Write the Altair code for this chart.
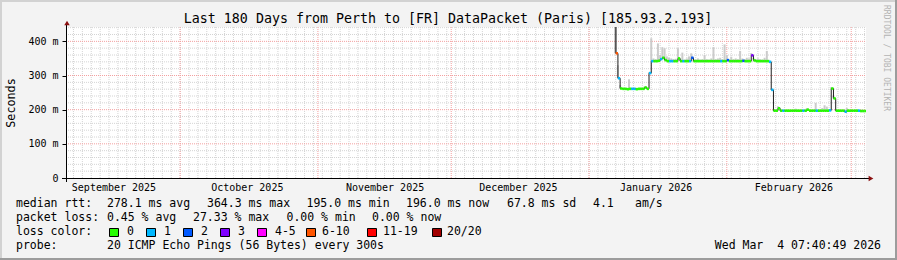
import altair as alt
import pandas as pd

MONO = "DejaVu Sans Mono"
OX, OY = 66, 27          # plot origin in page pixels
W, H = 800, 151          # plot area size
NB = "\u00a0"

# ---------------- data ----------------
sample_start = "2026-01-07 00:00:00"   # 12-hourly samples

median_ms = [
    365, 292, 262, 261, 261, 260, 261, 261, 261, 260,
    261, 261, 261, 265, 261, 307, 342, 342, 342, 343,
    348, 352, 345, 342, 342, 342, 342, 342, 350, 342,
    342, 342, 342, 342, 352, 342, 342, 342, 342, 342,
    342, 342, 342, 342, 342, 342, 342, 342, 342, 342,
    345, 342, 342, 342, 342, 342, 342, 343, 342, 342,
    342, 359, 344, 342, 342, 342, 342, 342, 342, 340,
    258, 197, 197, 204, 197, 197, 197, 197, 197, 197,
    197, 197, 197, 197, 197, 197, 200, 197, 197, 197,
    197, 197, 197, 197, 197, 197, 198, 262, 233, 197,
    197, 197, 197, 194, 197, 197, 197, 197, 197, 197,
    196, 196, 196,
]

smoke_max_ms = [
    443, 330, 272, 264, 263, 263, 289, 264, 263, 263,
    263, 264, 263, 268, 263, 310, 409, 350, 348, 394,
    360, 383, 380, 356, 352, 350, 348, 349, 380, 348,
    367, 347, 350, 356, 365, 348, 347, 350, 347, 348,
    360, 348, 347, 350, 383, 348, 350, 352, 348, 391,
    360, 348, 355, 348, 350, 348, 372, 350, 348, 352,
    350, 366, 352, 348, 350, 348, 347, 352, 372, 346,
    262, 199, 200, 210, 199, 200, 199, 200, 199, 200,
    199, 203, 200, 199, 201, 200, 205, 200, 199, 201,
    220, 200, 199, 205, 213, 209, 201, 266, 240, 200,
    199, 200, 199, 201, 205, 199, 200, 199, 200, 201,
    199, 200, 199,
]

loss_idx = [
    5, 1, 0, 0, 0, 0, 0, 1, 1, 0,
    0, 0, 0, 0, 0, 1, 1, 0, 0, 0,
    1, 0, 0, 0, 1, 1, 0, 0, 0, 0,
    1, 0, 0, 1, 2, 0, 0, 0, 0, 0,
    0, 0, 0, 0, 0, 0, 0, 1, 0, 0,
    2, 0, 0, 0, 0, 0, 0, 2, 0, 0,
    0, 3, 0, 0, 0, 0, 0, 0, 0, 1,
    1, 0, 0, 0, 0, 1, 0, 0, 0, 0,
    0, 0, 0, 0, 1, 0, 0, 0, 0, 0,
    1, 0, 0, 0, 0, 0, 1, 0, 0, 0,
    0, 0, 0, 1, 0, 0, 0, 0, 0, 1,
    0, 0, 0,
]

loss_labels = ["0", "1", "2", "3", "4-5", "6-10", "11-19", "20/20"]
loss_colors = ["#26ff00", "#00b8ff", "#0059ff", "#7e00ff",
               "#ff00ff", "#ff5500", "#ff0000", "#a10000"]

month_names = ["September 2025", "October 2025", "November 2025",
               "December 2025", "January 2026", "February 2026"]
month_mid = [(2025, 9), (2025, 10), (2025, 11), (2025, 12), (2026, 1), (2026, 2)]
month_starts = ["2025-10-01", "2025-11-01", "2025-12-01",
                "2026-01-01", "2026-02-01", "2026-03-01"]
y_ticks = [0, 100, 200, 300, 400]

assert len(median_ms) == len(smoke_max_ms) == len(loss_idx)

times = pd.date_range(sample_start, periods=len(median_ms), freq="12h")
df = pd.DataFrame({
    "t": times.strftime("%Y-%m-%dT%H:%M:%SZ"),
    "t2": (times + pd.Timedelta(hours=12)).strftime("%Y-%m-%dT%H:%M:%SZ"),
    "median": median_ms,
    "smax": smoke_max_ms,
    "loss": [loss_labels[i] for i in loss_idx],
})

minor_v = pd.DataFrame({"t": pd.date_range("2025-09-07", "2026-03-04", freq="2D").strftime("%Y-%m-%dT00:00:00Z")})
major_v = pd.DataFrame({"t": [d + "T00:00:00Z" for d in month_starts]})
minor_h = pd.DataFrame({"v": [v for v in range(20, 441, 20) if v % 100 != 0]})
major_h = pd.DataFrame({"v": [100, 200, 300, 400]})
one = pd.DataFrame({"a": [0]})

# ---------------- scales / axes ----------------
xs = alt.Scale(type="utc", domain=[
    alt.DateTime(year=2025, month=9, date=5, hours=7, minutes=40, seconds=49, utc=True),
    alt.DateTime(year=2026, month=3, date=4, hours=7, minutes=40, seconds=49, utc=True)])
ys = alt.Scale(domain=[0, 442], nice=False, zero=True)

xaxis = alt.Axis(
    values=[alt.DateTime(year=y, month=m, date=16, utc=True) for y, m in month_mid],
    labelExpr="utcFormat(datum.value, '%B %Y')",
    ticks=False, domain=False, grid=False, title=None,
    labelFont=MONO, labelFontSize=10, labelColor="black",
    labelPadding=4, labelFlush=False, labelOverlap=False)
yaxis = alt.Axis(
    values=y_ticks,
    labelExpr="datum.value == 0 ? '0' : datum.value + ' m'",
    ticks=True, tickSize=4, tickColor="black", domain=False, grid=False, title=None,
    labelFont=MONO, labelFontSize=10, labelColor="black", labelPadding=4)

X = lambda f: alt.X(f, type="temporal", scale=xs, axis=xaxis)
Y = lambda f: alt.Y(f, type="quantitative", scale=ys, axis=yaxis)

layers = []
# grids
layers.append(alt.Chart(minor_v).mark_rule(color="#d4d4d4", strokeWidth=1, strokeDash=[1, 1])
              .encode(x=X("t"), y=alt.value(0), y2=alt.value(H)))
layers.append(alt.Chart(minor_h).mark_rule(color="#d4d4d4", strokeWidth=1, strokeDash=[1, 1])
              .encode(y=Y("v"), x=alt.value(0), x2=alt.value(W)))
layers.append(alt.Chart(major_v).mark_rule(color="#f4a0a0", strokeWidth=1, strokeDash=[1, 1])
              .encode(x=X("t"), y=alt.value(0), y2=alt.value(H)))
layers.append(alt.Chart(major_h).mark_rule(color="#f4a0a0", strokeWidth=1, strokeDash=[1, 1])
              .encode(y=Y("v"), x=alt.value(0), x2=alt.value(W)))

# smoke
layers.append(alt.Chart(df).mark_rule(strokeWidth=2, clip=True).encode(
    x=X("t"), y=Y("median"), y2=alt.Y2("smax"),
    color=alt.condition("datum.loss == '6-10'", alt.value("#555555"), alt.value("#cbcbcb"))))
# median line
layers.append(alt.Chart(df).mark_line(interpolate="step-after", color="#202020",
                                      strokeWidth=1, clip=True)
              .encode(x=X("t"), y=Y("median")))
# loss coloured median
layers.append(alt.Chart(df).mark_rule(strokeWidth=2.6, clip=True).encode(
    x=X("t"), x2=alt.X2("t2"), y=Y("median"),
    color=alt.Color("loss:N", scale=alt.Scale(domain=loss_labels, range=loss_colors), legend=None)))

# axis lines and arrows
layers.append(alt.Chart(one).mark_rule(color="black", strokeWidth=1)
              .encode(x=alt.value(0.5), y=alt.value(-4), y2=alt.value(H + 4)))
layers.append(alt.Chart(one).mark_rule(color="black", strokeWidth=1)
              .encode(y=alt.value(H + 0.5), x=alt.value(-4), x2=alt.value(W + 3)))
layers.append(alt.Chart(one).mark_point(shape="triangle-up", filled=True, size=30,
                                        color="#8b1010", opacity=1)
              .encode(x=alt.value(1), y=alt.value(-4)))
layers.append(alt.Chart(one).mark_point(shape="triangle-right", filled=True, size=30,
                                        color="#8b1010", opacity=1)
              .encode(x=alt.value(W + 5), y=alt.value(H + 0.5)))

# frame
def frule(x1, y1, x2, y2, col, w=2):
    return alt.Chart(one).mark_rule(color=col, strokeWidth=w).encode(
        x=alt.value(x1 - OX), x2=alt.value(x2 - OX), y=alt.value(y1 - OY), y2=alt.value(y2 - OY))

layers.append(frule(0, 1, 897, 1, "#d2d2d2"))
layers.append(frule(1, 0, 1, 260, "#d2d2d2"))
layers.append(frule(0, 259, 897, 259, "#9c9c9c"))
layers.append(frule(896, 0, 896, 260, "#9c9c9c"))

def label(txt, x, y, size=11.5, align="left", font=MONO, color="black", angle=0):
    return alt.Chart(one).mark_text(
        text=txt.replace(" ", NB), align=align, baseline="middle", font=font,
        fontSize=size, color=color, angle=angle).encode(
        x=alt.value(x - OX), y=alt.value(y - OY))

layers.append(label("Last 180 Days from Perth to [FR] DataPacket (Paris) [185.93.2.193]",
                    448, 19, size=13.3, align="center"))
layers.append(label("Seconds", 11, 103, size=11.75, angle=270, align="center"))
layers.append(label("RRDTOOL / TOBI OETIKER", 886, 5, size=8, angle=90, color="#b4b4b4"))

row1 = [("median rtt:", 16), ("278.1 ms avg", 107), ("364.3 ms max", 207),
        ("195.0 ms min", 306.5), ("196.0 ms now", 406), ("67.8 ms sd", 507),
        ("4.1", 593), ("am/s", 635)]
row2 = [("packet loss:", 16), ("0.45 % avg", 107), ("27.33 % max", 193),
        ("0.00 % min", 286.5), ("0.00 % now", 372)]
for txt, x in row1:
    layers.append(label(txt, x, 204.3))
for txt, x in row2:
    layers.append(label(txt, x, 218.3))

layers.append(label("loss color:", 16, 232.3))
box_x = [109, 146, 183, 220, 257, 306, 367, 432]
text_x = [127, 164, 201, 238, 275, 322, 383, 447]
for lab, col, bx, tx in zip(loss_labels, loss_colors, box_x, text_x):
    layers.append(alt.Chart(one).mark_rect(fill=col, stroke="black", strokeWidth=1).encode(
        x=alt.value(bx - OX + 0.5), x2=alt.value(bx - OX + 9.5),
        y=alt.value(228 - OY + 0.5), y2=alt.value(237 - OY - 0.5)))
    layers.append(label(lab, tx, 232.3))

layers.append(label("probe:", 16, 246.3))
layers.append(label("20 ICMP Echo Pings (56 Bytes) every 300s", 107, 246.3))
layers.append(label("Wed Mar  4 07:40:49 2026", 881, 246.3, align="right"))

chart = alt.layer(*layers).properties(
    width=W, height=H,
    padding={"left": OX, "top": OY, "right": 897 - OX - W, "bottom": 260 - OY - H},
    autosize="none", background="#f3f3f3",
).configure_view(fill="white", stroke=None)

chart.save("out.html", embed_options={"renderer": "svg", "actions": False})
